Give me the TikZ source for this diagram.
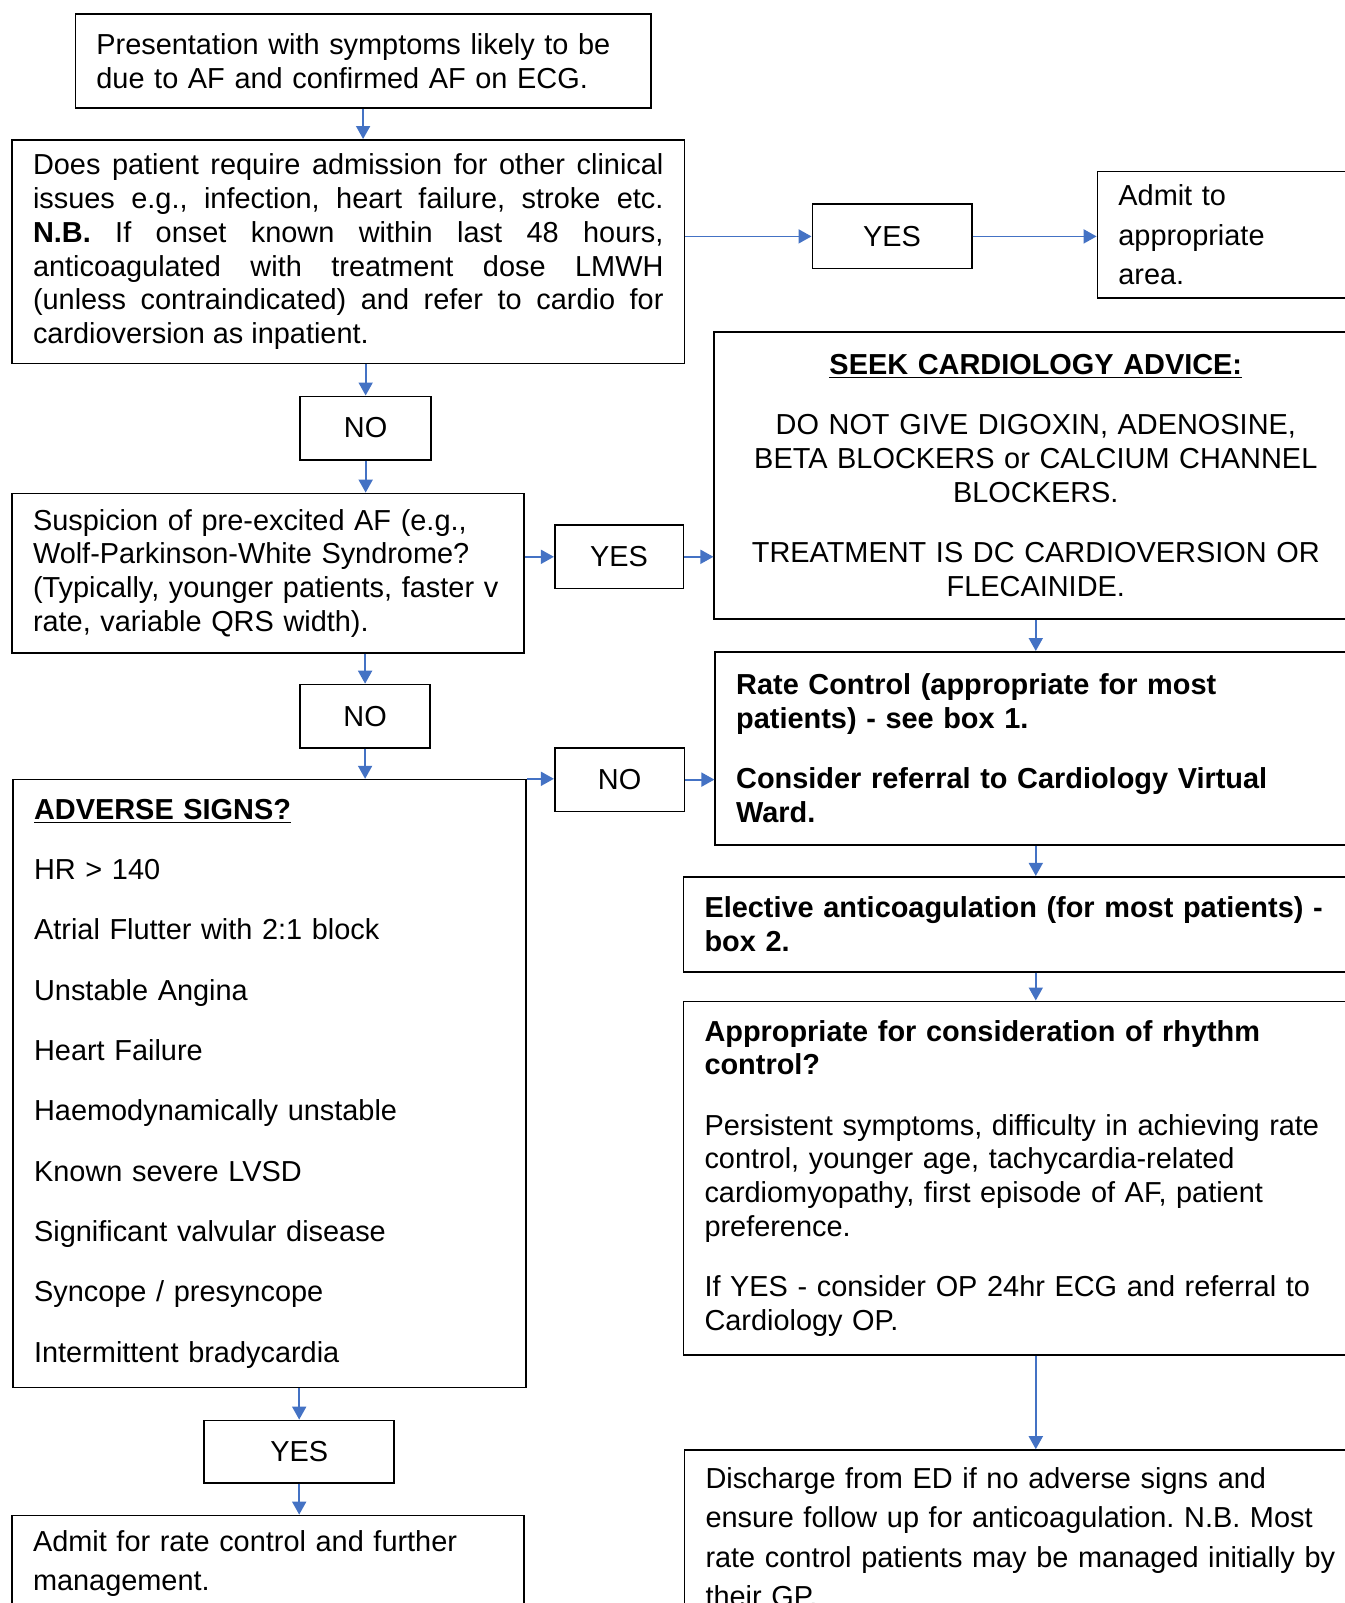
\documentclass[tikz,border=0pt]{standalone}
\usepackage{fontspec}
\setmainfont{Liberation Sans}
\usetikzlibrary{arrows.meta}
\definecolor{flowblue}{HTML}{4472C4}
\newcommand\bodyfont{\fontsize{14.45pt}{16.85pt}\selectfont}
\newcommand\loosefont{\fontsize{14.45pt}{19.7pt}\selectfont}
\frenchspacing

\begin{document}
\begin{tikzpicture}[x=0.5pt,y=-0.5pt,
    box/.style={draw, line width=0.8pt, inner xsep=10.5pt, inner ysep=0pt,
      align=left, anchor=north west, font=\bodyfont},
    answer/.style={draw, line width=0.8pt, inner sep=0pt, anchor=north west,
      font=\bodyfont},
    flow/.style={draw=flowblue, line width=0.9pt,
      -{Triangle[length=6.5pt,width=7pt]}}]
  \useasboundingbox (0,0) rectangle (1345,1603);
  \fill[white] (0,0) rectangle (1345,1603);
  \clip (0,0) rectangle (1345,1603);

  % left column
  \node[box, text width=266.7pt, minimum height=47pt] (pres) at (74.6,13.3)
    {Presentation with symptoms likely to be\\ due to AF and confirmed AF on ECG.};
  \node[box, text width=315.25pt, minimum height=111.9pt, align=justify] (admq) at (11.2,139)
    {Does patient require admission for other clinical\linebreak
     issues e.g., infection, heart failure, stroke etc.\linebreak
     \textbf{N.B.} If onset known within last 48 hours,\linebreak
     anticoagulated with treatment dose LMWH\linebreak
     (unless contraindicated) and refer to cardio for\linebreak
     cardioversion as inpatient.};
  \node[answer, minimum width=65.45pt, minimum height=31.7pt] (no1) at (299.4,395.5) {NO};
  \node[box, text width=235pt, minimum height=79.7pt] (wpw) at (11.2,492.6)
    {Suspicion of pre-excited AF (e.g.,\\ Wolf-Parkinson-White Syndrome?\\
     \mbox{(Typically, younger patients, faster v}\\ rate, variable QRS width).};
  \node[answer, minimum width=64.9pt, minimum height=31.7pt] (no2) at (299.4,683.7) {NO};
  \node[box, text width=235.5pt, minimum height=304pt] (adverse) at (12.3,778.8)
    {\textbf{\underline{ADVERSE SIGNS?}}\\[13.3pt]
     HR > 140\\[13.3pt]
     Atrial Flutter with 2:1 block\\[13.3pt]
     Unstable Angina\\[13.3pt]
     Heart Failure\\[13.3pt]
     Haemodynamically unstable\\[13.3pt]
     Known severe LVSD\\[13.3pt]
     Significant valvular disease\\[13.3pt]
     Syncope / presyncope\\[13.3pt]
     Intermittent bradycardia};
  \node[answer, minimum width=95pt, minimum height=31.2pt] (yes3) at (203.4,1419.6) {YES};
  \node[box, text width=235pt, minimum height=48.2pt, font=\loosefont] (admrate) at (11.2,1514.6)
    {Admit for rate control and further\\ management.};

  % middle answers
  \node[answer, minimum width=79.7pt, minimum height=32.2pt] (yes1) at (811.5,203.4) {YES};
  \node[answer, minimum width=64.4pt, minimum height=31.7pt] (yes2) at (553.9,524.3) {YES};
  \node[answer, minimum width=64.9pt, minimum height=31.7pt] (no3) at (553.9,747.1) {NO};

  % right column
  \node[box, text width=130.7pt, minimum height=63.35pt, font=\loosefont] (admarea) at (1096.6,170.7)
    {Admit to\\ appropriate\\ area.};
  \node[box, text width=300.6pt, minimum height=143.6pt, align=center] (seek) at (713.4,331.1)
    {\textbf{\underline{SEEK CARDIOLOGY ADVICE:}}\\[13.3pt]
     DO NOT GIVE DIGOXIN, ADENOSINE,\\ BETA BLOCKERS or CALCIUM CHANNEL\\ BLOCKERS.\\[13.3pt]
     TREATMENT IS DC CARDIOVERSION OR\\ FLECAINIDE.};
  \node[box, text width=321.8pt, minimum height=96.6pt, font=\bodyfont\bfseries] (ratectl) at (714.4,651)
    {Rate Control (appropriate for most\\ patients) - see box 1.\\[13.3pt]
     Consider referral to Cardiology Virtual\\ Ward.};
  \node[box, text width=337.7pt, minimum height=47.5pt, font=\bodyfont\bfseries] (elective) at (682.7,875.9)
    {Elective anticoagulation (for most patients) -\\ box 2.};
  \node[box, text width=337.7pt, minimum height=176.85pt] (rhythm) at (682.7,1000.5)
    {\textbf{Appropriate for consideration of rhythm}\\ \textbf{control?}\\[13.3pt]
     Persistent symptoms, difficulty in achieving rate\\ control, younger age, tachycardia-related\\
     cardiomyopathy, first episode of AF, patient\\ preference.\\[13.3pt]
     If YES - consider OP 24hr ECG and referral to\\ Cardiology OP.};
  \node[box, text width=337.2pt, minimum height=87pt, font=\loosefont] (discharge) at (683.7,1449.2)
    {Discharge from ED if no adverse signs and\\ ensure follow up for anticoagulation. N.B. Most\\
     rate control patients may be managed initially by\\ their GP.};

  % connectors
  \draw[flow] (pres.south) -- (pres.south |- admq.north);
  \draw[flow] (admq.east |- yes1.west) -- (yes1.west);
  \draw[flow] (yes1.east) -- (yes1.east -| admarea.west);
  \draw[flow] (admq.south -| no1.north) -- (no1.north);
  \draw[flow] (no1.south) -- (no1.south |- wpw.north);
  \draw[flow] (wpw.east |- yes2.west) -- (yes2.west);
  \draw[flow] (yes2.east) -- (yes2.east -| seek.west);
  \draw[flow] (wpw.south -| no2.north) -- (no2.north);
  \draw[flow] (no2.south) -- (no2.south |- adverse.north);
  \draw[flow] (adverse.north east) -- (adverse.north east -| no3.west);
  \draw[flow] (no3.east) -- (no3.east -| ratectl.west);
  \draw[flow] (seek.south) -- (seek.south |- ratectl.north);
  \draw[flow] (ratectl.south -| seek.south) -- (elective.north -| seek.south);
  \draw[flow] (elective.south -| seek.south) -- (rhythm.north -| seek.south);
  \draw[flow] (rhythm.south -| seek.south) -- (discharge.north -| seek.south);
  \draw[flow] (adverse.south -| yes3.north) -- (yes3.north);
  \draw[flow] (yes3.south) -- (yes3.south |- admrate.north);
\end{tikzpicture}
\end{document}
